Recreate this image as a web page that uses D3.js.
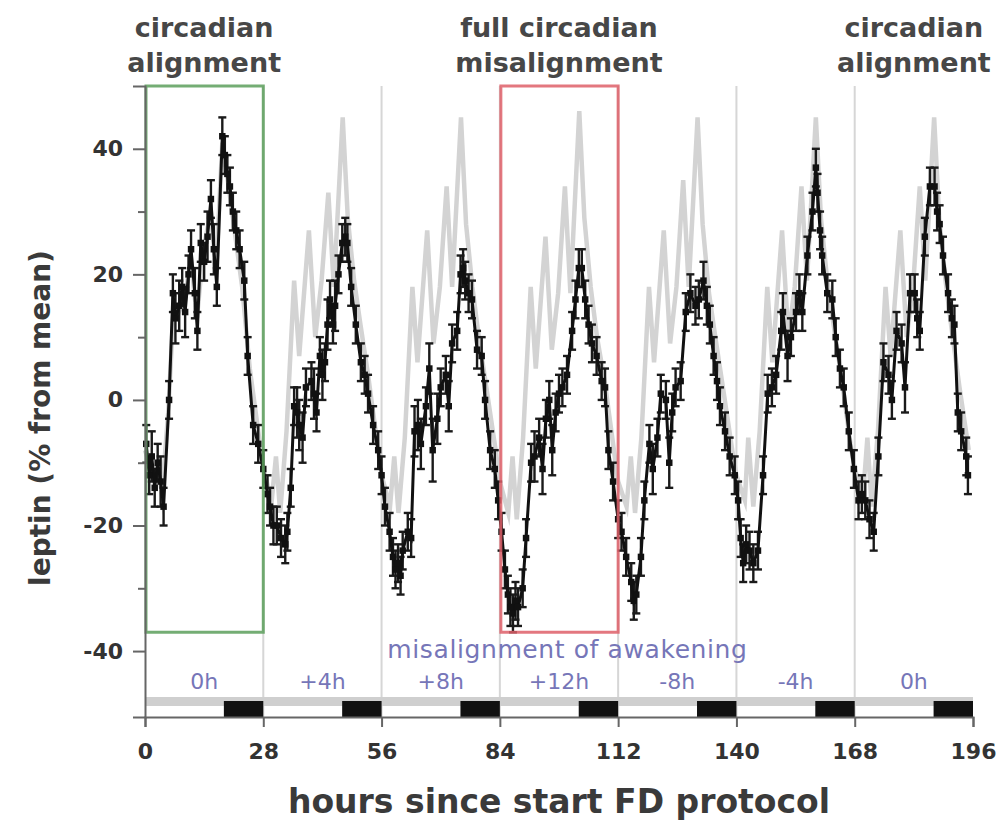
<!DOCTYPE html>
<html><head><meta charset="utf-8">
<script src="https://cdn.jsdelivr.net/npm/d3@7"></script>
<style>body{margin:0;background:#fff}svg{display:block}</style>
</head><body><svg id="c" width="1008" height="822"></svg>
<script>
// ---- data ----
const hours = [
0.3,1.0,1.6,2.3,3.0,3.7,4.4,5.7,6.6,7.2,
8.1,8.8,9.5,10.3,10.9,11.8,12.4,13.2,14.0,14.8,
15.6,16.3,17.0,18.3,18.9,19.5,20.1,20.8,21.6,22.4,
23.5,24.3,25.6,26.8,28.0,29.0,29.6,30.4,31.2,32.2,
33.2,33.7,34.5,35.3,36.0,36.5,37.3,38.1,39.4,40.0,
40.6,41.4,42.0,42.6,43.2,43.8,44.5,45.0,45.8,46.7,
47.4,47.9,48.8,49.9,51.1,52.0,52.8,54.0,55.2,56.0,
56.8,57.9,58.7,59.3,59.9,60.5,61.0,62.2,63.0,63.8,
64.6,65.3,66.5,67.3,68.1,69.2,70.0,71.2,71.9,72.7,
73.9,74.7,75.3,75.8,76.6,77.4,78.6,79.7,80.5,81.7,
82.8,83.6,84.4,85.2,85.9,86.5,87.1,87.7,88.3,89.4,
90.2,91.4,92.2,93.3,94.1,94.9,95.7,96.4,97.2,98.0,
98.8,99.9,101.1,101.9,102.7,103.4,104.2,105.0,105.8,106.9,
108.1,108.9,109.7,110.8,112.0,112.8,113.9,115.1,115.7,116.3,
117.4,118.2,119.4,120.2,121.3,122.1,123.3,124.1,124.8,125.6,
126.8,128.0,129.1,130.3,131.1,132.2,133.0,133.7,134.6,135.4,
136.1,137.3,138.4,139.6,140.4,141.0,141.6,142.3,143.1,144.0,
145.1,146.3,147.4,148.4,149.4,150.6,151.0,152.1,152.9,154.1,
154.9,155.6,156.8,158.0,158.8,159.2,159.8,160.3,161.5,162.7,
163.5,164.5,165.4,166.6,167.8,168.9,169.7,170.5,171.5,172.5,
173.6,174.8,176.0,176.8,177.9,179.1,179.9,181.1,182.2,182.8,
183.4,184.6,185.8,186.9,187.5,188.1,188.9,190.1,191.0,191.6,
192.4,193.2,194.4,194.8];
const leptin = [
-7,-12,-9,-14,-10,-13,-17,0,17,13,
15,18,14,20,24,17,11,25,22,26,
32,24,18,42,39,36,34,30,27,24,
19,7,-4,-7,-11,-15,-17,-20,-20,-22,
-23,-21,-14,-1,-2,-4,-6,2,3,1,
-2,7,4,6,12,16,12,15,20,25,
26,25,18,12,6,4,1,-4,-8,-12,
-17,-21,-25,-27,-26,-28,-24,-21,-22,-5,
-4,-7,-1,5,-8,-3,2,4,-1,9,
11,20,21,19,17,16,8,7,0,-8,
-11,-16,-21,-27,-31,-33,-34,-32,-33,-30,
-22,-10,-9,-6,-11,-3,0,-8,-2,1,
2,4,11,16,21,21,16,12,9,7,
3,2,-8,-13,-19,-21,-25,-29,-32,-31,
-25,-16,-7,-11,-6,1,0,-10,-2,2,
3,14,17,15,16,19,15,12,7,3,
-1,-5,-9,-12,-16,-22,-26,-23,-24,-26,
-24,-12,1,2,4,11,14,7,10,14,
17,14,23,30,37,33,27,23,17,16,
10,5,2,-5,-11,-16,-15,-16,-19,-21,
-9,6,4,0,11,9,2,17,17,13,
11,26,34,34,30,28,23,17,13,12,
-2,-5,-9,-12];
const leptinSem = [
3,3,4,3,3,4,3,3,3,4,
4,3,4,3,3,4,3,3,3,4,
3,4,3,3,3,3,3,3,3,3,
3,3,3,3,3,3,3,3,3,3,
3,3,3,3,4,4,4,3,3,4,
3,3,4,3,4,3,3,4,3,3,
3,3,3,3,3,3,3,3,3,3,
3,3,3,3,3,3,3,3,3,4,
4,4,3,4,5,4,3,3,4,3,
3,3,3,3,3,3,3,3,3,3,
3,3,3,3,3,3,3,3,3,3,
3,3,4,3,4,3,3,4,3,3,
3,3,3,3,3,3,3,3,3,3,
3,3,3,3,3,3,3,3,3,3,
3,3,3,4,3,3,3,4,3,3,
3,3,3,3,3,3,3,3,3,3,
3,3,3,3,3,3,3,3,3,3,
3,3,3,3,3,3,3,4,3,3,
3,3,3,3,3,3,3,3,3,3,
3,3,3,3,3,3,3,3,3,3,
3,3,3,3,3,3,4,3,3,3,
3,3,3,3,3,3,3,3,3,3,
3,3,3,3];
// aligned reference profile (grey)
const grayHours = [
0,2,3,4,5.5,6.8,8,9.5,10.8,12.3,13.8,15.6,16.8,18.3,19.8,21.4,23,24.8,27,
28,30,31,32,33.5,35.3,36.5,38.8,40.3,41.8,43.4,44.7,46.8,48,49.5,51,52.8,55,
56,58,59,60,61.5,63.3,64.5,66.8,68.3,69.8,71.4,72.7,74.8,76,77.5,79,80.8,83,
84,86,87,88,89.5,91.3,92.5,94.8,96.3,97.8,99.4,100.7,102.8,104,105.5,107,108.8,111,
112,114,115,116,117.5,119.3,120.5,122.8,124.3,125.8,127.4,128.7,130.8,132,133.5,135,136.8,139,
140,142,142.8,144,145.5,147.3,148.5,150.8,152.3,153.8,155.4,156.7,158.8,160,161.5,163,164.8,167,
168,170,171,172,173.5,175.3,176.5,178.8,180.3,181.8,183.4,184.7,186.8,188,189.5,191,192.8,195];
const grayLeptin = [
-8,-12,-10,-15,-2,15,14,16,23,13,24,30,20,41,34,26,18,5,-6,
-11,-16,-9,-18,-5,19,7,27,10,19,33,18,45,29,19,12,4,-7,
-12,-17,-9,-18,-6,18,6,27,9,18,34,18,45,28,18,10,2,-8,
-13,-18,-9,-19,-6,18,5,26,8,17,34,17,46,29,18,10,3,-8,
-13,-17,-9,-18,-6,18,6,27,9,18,35,18,45,28,17,10,2,-8,
-12,-16,-6,-17,-5,18,6,27,10,18,34,19,45,29,19,12,4,-7,
-11,-15,-6,-17,-5,18,7,27,10,18,34,19,45,29,19,11,2,-8];
const xTicks = [0,28,56,84,112,140,168,196];
const yMajor = [-40,-20,0,20,40];
const yMinor = [-30,-10,10,30];
const cycleStarts = [0,28,56,84,112,140,168];
const cycleLabels = ["0h","+4h","+8h","+12h","-8h","-4h","0h"];
const sleepStart = [18.67,46.67,74.67,102.67,130.67,158.67,186.67];
const sleepEnd = [28,56,84,112,140,168,196];
const boxFrom = [0,84];
const boxTo = [28,112];
const boxColors = ["#5c9f5c","#de5f69"];
const titleCenters = [14,98,182];
const titleLines = [["circadian","alignment"],["full circadian","misalignment"],["circadian","alignment"]];

// ---- chart ----
const svg = d3.select("#c");
const FONT = "DejaVu Sans, Verdana, sans-serif";
const x = d3.scaleLinear().domain([0,196]).range([145,973]);
const y = d3.scaleLinear().domain([-50.5,50]).range([717,86]);

// cycle separators
svg.append("g").selectAll("line").data(cycleStarts.slice(1)).join("line")
  .attr("x1",d=>x(d)).attr("x2",d=>x(d)).attr("y1",y(50)).attr("y2",y(-50.5))
  .attr("stroke","#d6d6d6").attr("stroke-width",2);

// grey reference
const gpts = grayHours.map((h,i)=>[h,grayLeptin[i]]);
svg.append("path").datum(gpts)
  .attr("d",d3.line().x(d=>x(d[0])).y(d=>y(d[1])))
  .attr("fill","none").attr("stroke","#d3d3d3").attr("stroke-width",4.5)
  .attr("stroke-linejoin","miter").attr("stroke-miterlimit",10);

// black series
const n = Math.min(hours.length, leptin.length, leptinSem.length);
const pts = d3.range(n).map(i=>({h:hours[i],v:leptin[i],s:leptinSem[i]}));
const eg = svg.append("g").attr("stroke","#1a1a1a").attr("stroke-width",2.4);
eg.selectAll("line.e").data(pts).join("line").attr("class","e")
  .attr("x1",d=>x(d.h)).attr("x2",d=>x(d.h))
  .attr("y1",d=>y(d.v-d.s)).attr("y2",d=>y(d.v+d.s));
eg.selectAll("line.t").data(pts).join("line").attr("class","t")
  .attr("x1",d=>x(d.h)-4).attr("x2",d=>x(d.h)+4)
  .attr("y1",d=>y(d.v+d.s)).attr("y2",d=>y(d.v+d.s));
eg.selectAll("line.b").data(pts).join("line").attr("class","b")
  .attr("x1",d=>x(d.h)-4).attr("x2",d=>x(d.h)+4)
  .attr("y1",d=>y(d.v-d.s)).attr("y2",d=>y(d.v-d.s));
svg.append("path").datum(pts)
  .attr("d",d3.line().x(d=>x(d.h)).y(d=>y(d.v)))
  .attr("fill","none").attr("stroke","#111").attr("stroke-width",3);
svg.append("g").selectAll("path").data(pts).join("path")
  .attr("transform",d=>`translate(${x(d.h)},${y(d.v)})`)
  .attr("d",d3.symbol(d3.symbolSquare,42)).attr("fill","#111");

// boxes
svg.append("g").selectAll("rect").data(boxFrom).join("rect")
  .attr("x",(d)=>x(d)+1).attr("width",(d,i)=>x(boxTo[i])-x(d)-1)
  .attr("y",y(50)).attr("height",y(-37)-y(50))
  .attr("fill","none").attr("stroke",(d,i)=>boxColors[i]).attr("stroke-width",3)
  .attr("opacity",0.85);

// light/dark bar
svg.append("rect").attr("x",x(0)).attr("width",x(196)-x(0))
  .attr("y",697).attr("height",9).attr("fill","#cfcfcf");
svg.append("g").selectAll("rect").data(sleepStart).join("rect")
  .attr("x",d=>x(d)).attr("width",(d,i)=>x(sleepEnd[i])-x(d))
  .attr("y",701).attr("height",16).attr("fill","#111");

// axes
const yAx = svg.append("g").attr("transform",`translate(${x(0)},0)`)
  .call(d3.axisLeft(y).tickValues(yMajor).tickSize(12).tickPadding(10).tickFormat(d=>String(d)));
const yMin = svg.append("g").attr("transform",`translate(${x(0)},0)`)
  .call(d3.axisLeft(y).tickValues(yMinor).tickSize(7).tickFormat(""));
yMin.select(".domain").remove();
const xAx = svg.append("g").attr("transform",`translate(0,${y(-50.5)})`)
  .call(d3.axisBottom(x).tickValues(xTicks).tickSize(10).tickPadding(16).tickFormat(d=>String(d)));
[yAx,yMin,xAx].forEach(g=>{
  g.selectAll(".domain").attr("stroke","#666").attr("stroke-width",2);
  g.selectAll(".tick line").attr("stroke","#666").attr("stroke-width",2);
  g.selectAll(".tick text").attr("font-family",FONT).attr("font-weight","bold")
   .attr("font-size",22).attr("fill","#333");
});

// annotations
const tg = svg.append("g").attr("font-family",FONT).attr("font-weight","bold")
  .attr("font-size",27).attr("fill","#474747").attr("text-anchor","middle");
titleCenters.forEach((c,i)=>{
  tg.append("text").attr("x",x(c)).attr("y",37).text(titleLines[i][0]);
  tg.append("text").attr("x",x(c)).attr("y",72).text(titleLines[i][1]);
});
const bg = svg.append("g").attr("font-family",FONT).attr("fill","#7676b8").attr("text-anchor","middle");
bg.selectAll("text").data(cycleStarts).join("text")
  .attr("x",d=>x(d+14)).attr("y",689).attr("font-size",22).text((d,i)=>cycleLabels[i]);
bg.append("text").attr("x",x(100)).attr("y",658).attr("font-size",25)
  .attr("letter-spacing",0.6).text("misalignment of awakening");

svg.append("text").attr("transform",`translate(40,418) rotate(-90)`)
  .attr("text-anchor","middle").attr("dominant-baseline","central")
  .attr("font-family",FONT).attr("font-weight","bold").attr("font-size",28).attr("fill","#3a3a3a")
  .text("leptin (% from mean)");
svg.append("text").attr("x",x(98)).attr("y",813).attr("text-anchor","middle")
  .attr("font-family",FONT).attr("font-weight","bold").attr("font-size",33).attr("fill","#3a3a3a")
  .text("hours since start FD protocol");
</script></body></html>
